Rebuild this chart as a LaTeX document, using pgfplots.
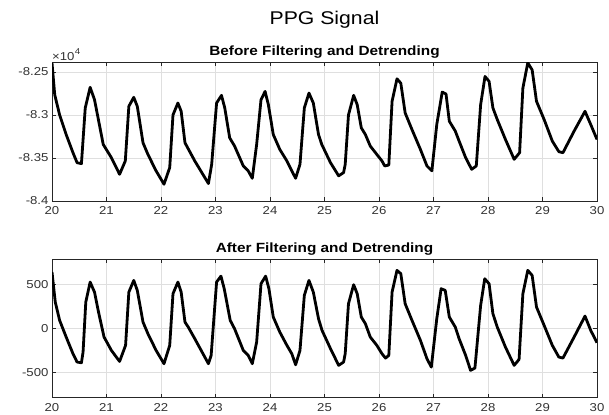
\documentclass[border=0pt]{standalone}
\usepackage{pgfplots}
\usepackage{pgfplotstable}
\pgfplotsset{compat=1.18}
\usepackage{fontspec}
\setmainfont{Liberation Sans}[FakeStretch=1.15]

% raw signal, before filtering
\pgfplotstableread{
t v
20.00 -82395
20.05 -82766
20.14 -83000
20.26 -83228
20.385 -83439
20.46 -83555
20.54 -83566
20.61 -82919
20.70 -82680
20.78 -82823
20.94 -83343
21.09 -83497
21.24 -83690
21.345 -83535
21.41 -82900
21.50 -82796
21.565 -82900
21.67 -83324
21.76 -83459
21.91 -83650
22.055 -83805
22.16 -83612
22.22 -83000
22.31 -82862
22.37 -82958
22.44 -83324
22.62 -83535
22.87 -83797
22.93 -83574
23.02 -82862
23.11 -82773
23.17 -82919
23.26 -83266
23.35 -83362
23.51 -83593
23.60 -83650
23.675 -83736
23.755 -83343
23.835 -82823
23.91 -82727
23.97 -82881
24.06 -83228
24.18 -83401
24.31 -83535
24.40 -83650
24.47 -83736
24.55 -83574
24.63 -82919
24.715 -82746
24.795 -82862
24.89 -83228
24.95 -83343
25.11 -83555
25.26 -83708
25.35 -83670
25.38 -83574
25.44 -83000
25.535 -82773
25.60 -82881
25.675 -83150
25.75 -83228
25.84 -83362
25.96 -83459
26.055 -83535
26.105 -83593
26.18 -83582
26.24 -82842
26.33 -82581
26.40 -82631
26.48 -82977
26.605 -83170
26.76 -83401
26.88 -83593
26.97 -83650
27.06 -83112
27.16 -82734
27.23 -82758
27.29 -83073
27.40 -83188
27.47 -83304
27.59 -83497
27.70 -83632
27.785 -83593
27.865 -82881
27.945 -82553
28.02 -82611
28.09 -82919
28.17 -83054
28.32 -83285
28.48 -83516
28.58 -83439
28.64 -82688
28.73 -82395
28.81 -82477
28.89 -82842
29.03 -83054
29.18 -83304
29.30 -83427
29.375 -83439
29.58 -83188
29.78 -82958
29.885 -83112
30.00 -83285
}\rawtab

% filtered and detrended signal
\pgfplotstableread{
t v
20.00 644
20.06 301
20.14 92
20.26 -99
20.385 -290
20.46 -385
20.54 -393
20.57 -271
20.62 301
20.70 530
20.78 415
20.86 168
20.955 -99
21.09 -252
21.24 -378
21.35 -194
21.41 415
21.50 549
21.565 435
21.67 72
21.76 -61
21.91 -252
22.055 -404
22.16 -194
22.22 397
22.31 530
22.37 415
22.44 72
22.50 15
22.62 -118
22.87 -404
22.92 -309
23.02 530
23.10 598
23.16 454
23.27 92
23.35 -4
23.51 -252
23.60 -309
23.675 -404
23.755 -156
23.835 511
23.92 598
23.98 454
24.06 130
24.18 -42
24.31 -194
24.40 -290
24.47 -416
24.55 -252
24.63 378
24.715 549
24.795 415
24.89 111
24.955 -23
25.11 -232
25.26 -423
25.35 -385
25.38 -290
25.44 282
25.535 500
25.60 397
25.675 130
25.75 54
25.84 -99
25.96 -194
26.055 -290
26.12 -340
26.18 -309
26.24 415
26.33 664
26.40 626
26.48 282
26.605 92
26.76 -137
26.88 -347
26.96 -443
27.06 111
27.14 454
27.215 435
27.29 130
27.40 15
27.47 -118
27.59 -309
27.68 -480
27.76 -454
27.865 263
27.94 568
28.02 511
28.09 168
28.17 15
28.32 -214
28.48 -423
28.57 -355
28.64 397
28.73 664
28.81 606
28.89 244
29.03 34
29.18 -194
29.30 -328
29.375 -340
29.58 -99
29.78 141
29.885 -23
30.00 -164
}\filttab

\definecolor{axcol}{RGB}{38,38,38}
\definecolor{gridcol}{RGB}{223,223,223}

\pgfplotsset{
  ppg/.style={
    scale only axis,
    width=545bp, height=138.6bp,
    anchor=south west,
    xmin=20, xmax=30,
    xtick={20,21,...,30},
    xticklabels={20,21,22,23,24,25,26,27,28,29,30},
    scaled x ticks=false, scaled y ticks=false,
    tick pos=both, tick align=inside,
    major tick length=4bp,
    axis line style={axcol, line width=0.6bp},
    tick style={axcol, line width=0.6bp},
    grid=major,
    major grid style={gridcol, line width=0.6bp},
    ticklabel style={font=\fontsize{11.5}{13}\selectfont, text=black!80},
    xticklabel style={yshift=-2bp},
    /pgf/number format/assume math mode=true,
    clip=true,
  },
  sig/.style={black, line width=2.8bp, line join=round},
}

\begin{document}
\begin{tikzpicture}
\useasboundingbox (0,0) rectangle (609bp,415bp);

\begin{axis}[ppg, at={(52bp,214bp)},
    ymin=-84000, ymax=-82390,
    ytick={-84000,-83500,-83000,-82500},
    yticklabels={-8.4,-8.35,-8.3,-8.25},
  ]
  \addplot[sig] table[x=t, y=v] {\rawtab};
\end{axis}

\begin{axis}[ppg, at={(52bp,17.3bp)},
    ymin=-793, ymax=793,
    ytick={-500,0,500},
    yticklabels={-500,0,500},
  ]
  \addplot[sig] table[x=t, y=v] {\filttab};
\end{axis}

\node at (324.5bp,395bp) {\fontsize{18.5}{21}\selectfont PPG Signal};
\node at (324.5bp,362.5bp) {\fontsize{13.4}{15}\selectfont\bfseries Before Filtering and Detrending};
\node at (324.5bp,165.5bp) {\fontsize{13.4}{15}\selectfont\bfseries After Filtering and Detrending};
\node[anchor=west, text=black!80, inner sep=0pt] (sc) at (52bp,358.5bp) {\fontsize{11.5}{13}\selectfont ×10};
\node[anchor=south west, text=black!80, inner sep=0pt] at ([yshift=-2.5bp]sc.north east) {\fontsize{8.5}{10}\selectfont 4};
\end{tikzpicture}
\end{document}
